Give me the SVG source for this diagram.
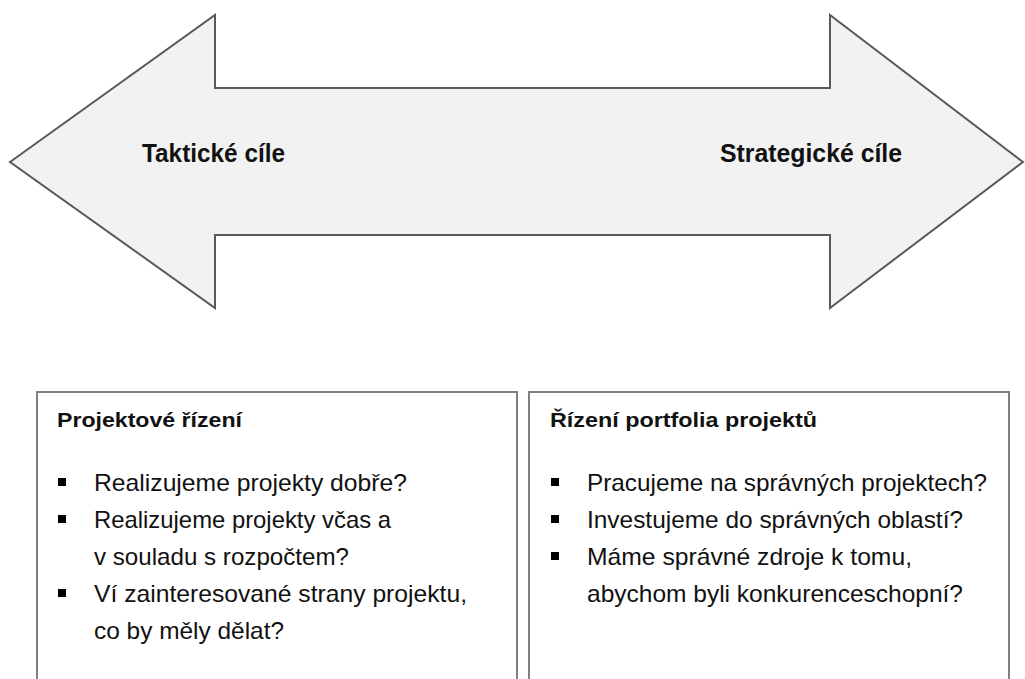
<svg xmlns="http://www.w3.org/2000/svg" width="1025" height="679" viewBox="0 0 1025 679">
<style>
.arrow{fill:#f2f2f2;stroke:#595959;stroke-width:2;stroke-linejoin:miter}
.box{fill:#ffffff;stroke:#808080;stroke-width:2}
.lbl{font-family:"Liberation Sans",Arial,sans-serif;font-weight:bold;font-size:25px;fill:#111}
.ttl{font-family:"Liberation Sans",Arial,sans-serif;font-weight:bold;font-size:21px;fill:#111}
.txt{font-family:"Liberation Sans",Arial,sans-serif;font-size:24px;fill:#111}
.bul{fill:#000}
</style>
<g id="arrow">
<polygon class="arrow" points="10,162 215,15 215,88 830,88 830,15 1023,162 830,308 830,235 215,235 215,308"/>
<text class="lbl" x="142" y="162" textLength="143" lengthAdjust="spacingAndGlyphs">Taktické cíle</text>
<text class="lbl" x="720" y="162" textLength="182" lengthAdjust="spacingAndGlyphs">Strategické cíle</text>
</g>
<g id="box-left">
<rect class="box" x="37" y="392" width="480" height="300"/>
<text class="ttl" x="57" y="427" textLength="185" lengthAdjust="spacingAndGlyphs">Projektové řízení</text>
<rect class="bul" x="58" y="478" width="8" height="8"/>
<text class="txt" x="94" y="491" textLength="313" lengthAdjust="spacingAndGlyphs">Realizujeme projekty dobře?</text>
<rect class="bul" x="58" y="515" width="8" height="8"/>
<text class="txt" x="94" y="528" textLength="297" lengthAdjust="spacingAndGlyphs">Realizujeme projekty včas a</text>
<text class="txt" x="94" y="565" textLength="255" lengthAdjust="spacingAndGlyphs">v souladu s rozpočtem?</text>
<rect class="bul" x="58" y="589" width="8" height="8"/>
<text class="txt" x="94" y="602" textLength="373" lengthAdjust="spacingAndGlyphs">Ví zainteresované strany projektu,</text>
<text class="txt" x="94" y="639" textLength="190" lengthAdjust="spacingAndGlyphs">co by měly dělat?</text>
</g>
<g id="box-right">
<rect class="box" x="529" y="392" width="480" height="300"/>
<text class="ttl" x="550" y="427" textLength="267" lengthAdjust="spacingAndGlyphs">Řízení portfolia projektů</text>
<rect class="bul" x="551" y="478" width="8" height="8"/>
<text class="txt" x="587" y="491" textLength="400" lengthAdjust="spacingAndGlyphs">Pracujeme na správných projektech?</text>
<rect class="bul" x="551" y="515" width="8" height="8"/>
<text class="txt" x="587" y="528" textLength="376" lengthAdjust="spacingAndGlyphs">Investujeme do správných oblastí?</text>
<rect class="bul" x="551" y="552" width="8" height="8"/>
<text class="txt" x="587" y="565" textLength="325" lengthAdjust="spacingAndGlyphs">Máme správné zdroje k tomu,</text>
<text class="txt" x="587" y="602" textLength="376" lengthAdjust="spacingAndGlyphs">abychom byli konkurenceschopní?</text>
</g>
<g id="connectors"/>
</svg>
